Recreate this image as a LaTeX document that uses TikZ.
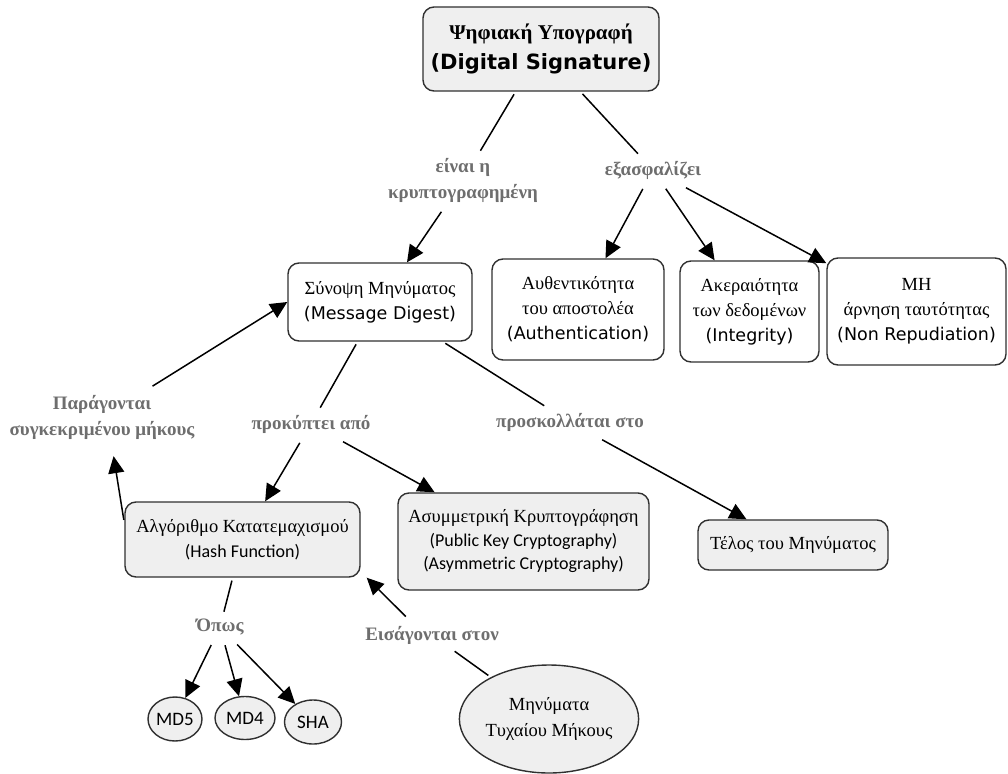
\documentclass[tikz,border=0pt]{standalone}
\usepackage{fontspec}
\setmainfont{Liberation Serif}
\newfontfamily\versans{DejaVu Sans}
\newfontfamily\calsans{Carlito}
\usetikzlibrary{arrows.meta,shapes.geometric}
\definecolor{boxgray}{HTML}{EFEFEF}
\definecolor{linkgray}{HTML}{6E6E6E}
\definecolor{edgegray}{HTML}{303030}
\newcommand{\dvs}{\versans\fontsize{17.5}{24}\selectfont}
\newcommand{\cls}{\calsans\fontsize{18}{24}\selectfont}
\begin{document}
\begin{tikzpicture}[x=1pt,y=-1pt,
    concept/.style={draw=edgegray,line width=1.4pt,rounded corners=11pt,align=center,inner sep=2pt,
        font=\fontsize{18.5}{25}\selectfont},
    graybox/.style={concept,fill=boxgray},
    whitebox/.style={concept,fill=white},
    oval/.style={ellipse,draw=edgegray,line width=1.4pt,fill=boxgray,inner sep=0pt,align=center,
        font=\fontsize{18.5}{26}\selectfont},
    linktext/.style={text=linkgray,font=\fontsize{19}{26}\selectfont\bfseries,align=center,inner sep=7pt},
    link/.style={line width=1.5pt,shorten <=3pt},
    arr/.style={link,-{Triangle[length=17pt,width=16pt]}}]
    \useasboundingbox (0,0) rectangle (1008,773);
    \node[graybox,minimum width=236pt,minimum height=84pt,font=\fontsize{21}{30}\selectfont\bfseries] (sig) at (541,49)
        {Ψηφιακή Υπογραφή\\{\versans (Digital Signature)}};
    \node[whitebox,minimum width=184pt,minimum height=78pt] (md) at (380,302)
        {Σύνοψη Μηνύματος\\{\dvs (Message Digest)}};
    \node[whitebox,minimum width=172pt,minimum height=101pt] (auth) at (578,309.5)
        {Αυθεντικότητα\\του αποστολέα\\{\dvs (Authentication)}};
    \node[whitebox,minimum width=139pt,minimum height=101pt] (integ) at (749.5,311.5)
        {Ακεραιότητα\\των δεδομένων\\{\dvs (Integrity)}};
    \node[whitebox,minimum width=179pt,minimum height=107pt] (nonrep) at (916.5,311.5)
        {ΜΗ\\άρνηση ταυτότητας\\{\dvs (Non Repudiation)}};
    \node[graybox,minimum width=235pt,minimum height=75pt] (hash) at (242.5,539.5)
        {Αλγόριθμο Κατατεμαχισμού\\{\cls (Hash Function)}};
    \node[graybox,minimum width=251pt,minimum height=97pt,font=\fontsize{18.5}{23.5}\selectfont] (asym) at (523.5,541.5)
        {Ασυμμετρική Κρυπτογράφηση\\{\cls (Public Key Cryptography)}\\{\cls (Asymmetric Cryptography)}};
    \node[graybox,minimum width=190pt,minimum height=50pt] (tail) at (793,545) {Τέλος του Μηνύματος};
    \node[oval,minimum width=54pt,minimum height=44pt,font=\calsans\fontsize{19}{24}\selectfont] (md5) at (175,719) {MD5};
    \node[oval,minimum width=60pt,minimum height=43pt,font=\calsans\fontsize{19}{24}\selectfont] (md4) at (245,718) {MD4};
    \node[oval,minimum width=57pt,minimum height=44pt,font=\calsans\fontsize{19}{24}\selectfont] (sha) at (313,722) {SHA};
    \node[oval,minimum width=168pt,minimum height=108pt] (msgs) at (549,719) {Μηνύματα\\Τυχαίου Μήκους};
    \node[linktext] (lenc) at (463,180) {είναι η\\κρυπτογραφημένη};
    \node[linktext] (lens) at (653,170) {εξασφαλίζει};
    \node[linktext] (lgen) at (102,417) {Παράγονται\\συγκεκριμένου μήκους};
    \node[linktext] (lres) at (311,424) {προκύπτει από};
    \node[linktext] (lapp) at (570,422) {προσκολλάται στο};
    \node[linktext] (lsuch) at (220,627) {Όπως};
    \node[linktext] (lin) at (432,635) {Εισάγονται στον};
    \draw[link] (sig) -- (lenc);
    \draw[arr] (lenc) -- (md);
    \draw[link] (sig) -- (lens);
    \draw[arr] (lens) -- (auth);
    \draw[arr] (lens) -- (integ);
    \draw[arr] (lens) -- (nonrep);
    \draw[link] (md) -- (lres);
    \draw[arr] (lres) -- (hash);
    \draw[arr] (lres) -- (asym);
    \draw[link] (md) -- (lapp);
    \draw[arr] (lapp) -- (tail);
    \draw[arr,shorten >=10pt] (hash.172) -- ([xshift=10pt]lgen.south);
    \draw[arr] ([xshift=48pt]lgen.north) -- (md.west);
    \draw[link] (hash) -- (lsuch);
    \draw[arr] (lsuch) -- (md5);
    \draw[arr] (lsuch) -- (md4);
    \draw[arr] (lsuch) -- (sha);
    \draw[link] (msgs) -- (lin);
    \draw[arr] ([xshift=-24pt]lin.north) -- ([xshift=6pt]hash.south east);
\end{tikzpicture}
\end{document}
